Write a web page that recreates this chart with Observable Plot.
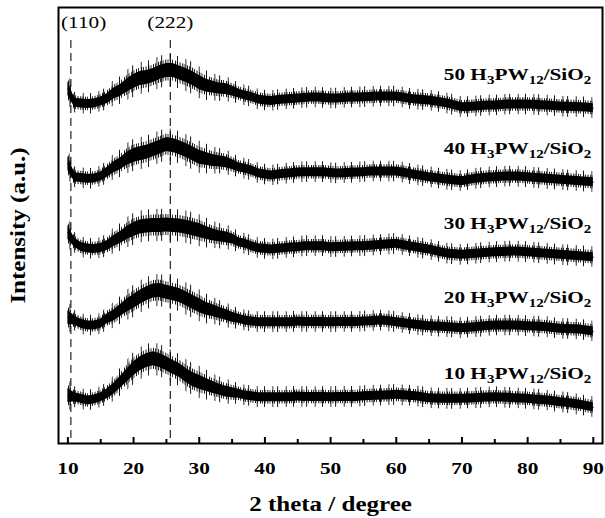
<!DOCTYPE html>
<html><head><meta charset="utf-8">
<script src="https://cdn.jsdelivr.net/npm/d3@7"></script>
<script src="https://cdn.jsdelivr.net/npm/@observablehq/plot@0.6"></script>
<style>body{margin:0;background:#fff}#chart{width:605px;height:518px}</style>
</head><body><div id="chart"></div>
<script>
// 2θ sampling grid (degrees)
const angles = [10,11,12,13,14,15,16,17,18,19,20,21,22,23,24,25,26,27,28,29,30,31,32,33,34,35,36,37,38,39,40,41,42,43,44,45,46,47,48,49,50,51,52,53,54,55,56,57,58,59,60,61,62,63,64,65,66,67,68,69,70,71,72,73,74,75,76,77,78,79,80,81,82,83,84,85,86,87,88,89,90];
// Stacked intensity (a.u.), one value per degree
const s50 = [355,341,340,339.5,340,342,345,350,353,358, 362,365,366,368,371,373,373,370.5,368,365, 361,358,356.5,355,354.5,352.5,350,348,346.5,344, 343,342.5,343.5,344,344.5,345,345.5,346,346,345.5, 345,345,345.5,346,346,346.3,346.5,347,347,347, 347,346,344.7,344,343.5,343,342,341,339.7,338, 336.3,336.5,337,337.5,338,338,338.5,339,339,339, 339,338.7,338.3,338,337.5,337,336.7,336.5,336.3,336,335.3];
const s40 = [280,266.3,265.5,264.7,265,267,271.3,276.3,279.7,284.7, 288,289.7,291.3,293.7,296.3,299,298,295.7,293,289.7, 286.3,284.7,283,282.3,281.3,279,276.3,274.7,273,270.3, 269,268,269,269.7,270.3,271,271.3,271.3,271.3,271.3, 270.5,270,270.3,270.7,271,271.3,272,272,272,272, 272,271,269.7,268.5,267.5,266.3,265.5,264.5,263.7,263, 262.3,263.5,264.7,265.3,266,266.3,266.7,267,267,266.7, 266.3,265.7,265.2,264.7,264.2,263.7,263.2,262.7,262.3,261.8,261.3];
const s30 = [211,201,196.5,195,194.5,195.5,198,202.5,206,210.5, 214,216.5,217.5,218,218,218.5,218,217.5,216.3,214.7, 213,210.7,208.7,207.3,206.3,204.7,201.3,199.7,197.3,195.3, 194.7,194,194.7,195.3,196,196.3,197.3,197.3,197.3,197.3, 196.3,196.5,196.7,197,197.2,197.3,197.8,198.2,198.7,199.2, 199.7,198.5,197.3,196.2,195,194,192.5,191,189.7,189.2, 188.7,189.2,189.7,190.3,190.8,191.3,191.5,191.8,192,191.7, 191.3,190.8,190.2,189.7,189.2,188.7,188.2,187.8,187.3,186.8,186.3];
const s20 = [126,123,119.7,118,118,119.7,124.7,128,133,138, 142,146.3,149.7,152.5,153,151.3,149.7,148,144.7,141.3, 138,134.7,133,130.7,128.7,126.3,124.7,123,122,121.3, 121.3,121.3,121.3,121.3,121.3,122,121.5,121.5,121.5,121.5, 121.3,121.5,121.5,121.5,121.5,122,122.3,122.7,123,122.2, 121.3,120.5,119.6,118.7,118,117.3,117,116.7,116.3,115.8, 115.3,115.8,116.3,116.9,117.5,118,118,118,118,117.7, 117.3,117,116.7,116.3,115.5,114.7,114.5,114.2,114,113,112];
const s10 = [48,46.3,44.7,43,44,46.3,49.7,54.7,61.3,68, 74.7,79.7,83,84.7,83,79.7,76.3,73,68,64, 61.3,58.7,56.3,54,52,50.7,49.7,48,47.3,46.3, 46.3,46.3,46.3,46.3,46.3,47,46.5,46.5,46.5,46.5, 46.3,46.6,46.6,46.6,46.6,47.3,47.5,47.8,48,48.3, 48.7,48.2,47.8,47.3,46.3,45.3,45,44.8,44.7,44.7, 44.7,45,45.3,45.7,46,46.3,46,45.7,45.3,45, 44.7,44.1,43.6,43,42.2,41.3,40.7,39.7,38.7,37.5,36.3];
// half-thickness of the solid noisy trace
const spread = [7,4.5,4.5,4.5,4.5,4.5,5,5.5,6,6.5, 7,7,7,7,7,7,7,7,7,7, 7,6.5,6,5.5,5.5,5,4.5,4.5,4.5,4.5, 4.5,4.5,4.5,4.5,4.5,4.5,4.5,4.5,4.5,4.5, 4.5,4.5,4.5,4.5,4.5,4.5,4.5,4.5,4.5,4.5, 4.5,4.5,4.5,4.5,4.5,4.5,4.5,4.5,4.5,4.5, 4.5,4.5,4.5,4.5,4.5,4.5,4.5,4.5,4.5,4.5, 4.5,4.5,4.5,4.5,4.5,4.5,4.5,4.5,4.5,4.5,4.5];
// reach of the dense short spikes and of the sparse long spikes beyond the solid trace
const shortSpikeReach = 1.5;
const longSpikeReach = 2.3;
const loadings = ["10","20","30","40","50"];
const seriesValues = [s10, s20, s30, s40, s50];
const xTicks = [10,20,30,40,50,60,70,80,90];
const xMinorTicks = [15,25,35,45,55,65,75,85];
const peakPositions = [10.45, 25.6];
const peakLabels = ["(110)", "(222)"];
const peakLabelX = [12.4, 25.6];

const rows = [];
seriesValues.forEach((vals, i) => vals.forEach((v, j) => rows.push({
  series: loadings[i], angle: angles[j], value: v,
  lo: v - spread[j], hi: v + spread[j],
  lo2: v - spread[j] * shortSpikeReach, hi2: v + spread[j] * shortSpikeReach,
  lo3: v - spread[j] * longSpikeReach, hi3: v + spread[j] * longSpikeReach
})));
const ends = seriesValues.map((vals, i) => ({
  angle: angles[angles.length - 1], value: vals[vals.length - 1],
  label: `${loadings[i]} H3PW12/SiO2`
}));

const font = "'Liberation Serif', 'Times New Roman', serif";
const svg = Plot.plot({
  width: 605, height: 518,
  marginLeft: 58, marginRight: 3, marginTop: 7, marginBottom: 75,
  style: {fontFamily: font, fontWeight: "bold", fontSize: "17px", background: "white", color: "black"},
  x: {domain: [8.57, 91.4], label: null},
  y: {domain: [0, 436], axis: null},
  marks: [
    Plot.ruleX(peakPositions, {x: d => d, insetTop: 33, stroke: "#333", strokeWidth: 1.3, strokeDasharray: "8,5"}),
    Plot.areaY(rows, {x: "angle", y1: "lo3", y2: "hi3", z: "series", fill: "url(#longSpikes)", curve: "linear"}),
    Plot.areaY(rows, {x: "angle", y1: "lo2", y2: "hi2", z: "series", fill: "url(#shortSpikes)", curve: "linear"}),
    Plot.areaY(rows, {x: "angle", y1: "lo", y2: "hi", z: "series", fill: "black", curve: "linear"}),
    Plot.lineY(rows, {x: "angle", y: "value", z: "series", stroke: "black", strokeWidth: 1}),
    Plot.text(ends, {x: "angle", y: "value", text: "label", textAnchor: "end", dx: -2, dy: -34, fontSize: 17, fontWeight: "bold", fill: "black", fontFamily: font}),
    Plot.text(peakLabels, {x: (d, i) => peakLabelX[i], frameAnchor: "top", dy: 8, fontSize: 17, fontWeight: "normal", fill: "black", fontFamily: font}),
    Plot.frame({stroke: "black", strokeWidth: 2}),
    Plot.axisX(xTicks, {anchor: "bottom", tickSize: -6, tickFormat: () => "", strokeWidth: 2, label: null}),
    Plot.axisX(xMinorTicks, {anchor: "bottom", tickSize: -4, tickFormat: () => "", strokeWidth: 2, label: null}),
    Plot.axisX(xTicks, {anchor: "bottom", tickSize: 0, tickPadding: 18, fontSize: 17, fontWeight: "bold", fontFamily: font, label: null}),
    Plot.text(["2 theta / degree"], {frameAnchor: "bottom", dy: 67, fontSize: 20, fontWeight: "bold", fill: "black", fontFamily: font}),
    Plot.text(["Intensity (a.u.)"], {frameAnchor: "left", textAnchor: "middle", dx: -40, rotate: -90, fontSize: 20, fontWeight: "bold", fill: "black", fontFamily: font})
  ]
});
document.getElementById("chart").appendChild(svg);

// textures for the spike fringes: fine vertical strokes at uneven spacing
const NS = "http://www.w3.org/2000/svg";
const defs = document.createElementNS(NS, "defs");
defs.innerHTML =
  '<pattern id="shortSpikes" patternUnits="userSpaceOnUse" width="17" height="12">' +
  '<rect x="0" width="0.9" height="12"/><rect x="2.2" width="0.8" height="12"/>' +
  '<rect x="5.1" width="1" height="12"/><rect x="7.0" width="0.8" height="12"/>' +
  '<rect x="9.6" width="0.9" height="12"/><rect x="12.3" width="1" height="12"/>' +
  '<rect x="14.6" width="0.8" height="12"/></pattern>' +
  '<pattern id="longSpikes" patternUnits="userSpaceOnUse" width="29" height="12">' +
  '<rect x="3" width="0.9" height="12"/><rect x="11.5" width="0.8" height="12"/>' +
  '<rect x="16.2" width="0.9" height="12"/><rect x="24.8" width="0.8" height="12"/></pattern>';
svg.insertBefore(defs, svg.firstChild);

// chemical-formula subscripts
svg.querySelectorAll("text").forEach(t => {
  const m = t.textContent.match(/^(\d+) H3PW12\/SiO2$/);
  if (!m) return;
  t.textContent = "";
  const parts = [[`${m[1]} H`, false], ["3", true], ["PW", false], ["12", true], ["/SiO", false], ["2", true]];
  let down = false;
  parts.forEach(([s, sub]) => {
    const ts = document.createElementNS(NS, "tspan");
    ts.textContent = s;
    if (sub) { ts.setAttribute("font-size", "12px"); if (!down) ts.setAttribute("dy", "4"); down = true; }
    else if (down) { ts.setAttribute("dy", "-4"); down = false; }
    t.appendChild(ts);
  });
});
// the reference typeface is wider: stretch glyphs along the text direction,
// keeping each label's anchor point where Plot put it
const stretch = 1.25;
svg.querySelectorAll("text").forEach(t => {
  if (!t.textContent.trim()) return;
  const anchor = getComputedStyle(t).textAnchor;
  const L = t.getComputedTextLength() * stretch;
  const x0 = parseFloat(t.getAttribute("x") || "0");
  const shift = anchor === "middle" ? L / 2 : anchor === "end" ? L : 0;
  t.setAttribute("text-anchor", "start");
  t.style.textAnchor = "start";
  t.setAttribute("x", (x0 - shift).toFixed(2));
  t.setAttribute("textLength", L.toFixed(1));
  t.setAttribute("lengthAdjust", "spacingAndGlyphs");
});
</script></body></html>
